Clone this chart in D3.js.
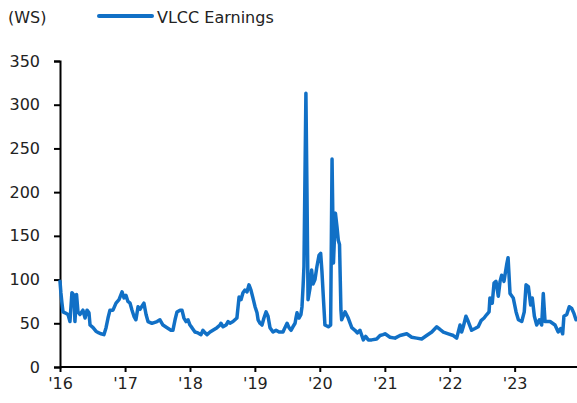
<!DOCTYPE html>
<html>
<head>
<meta charset="utf-8">
<script src="https://cdn.jsdelivr.net/npm/d3@7"></script>
<style>
  body { margin: 0; background: #fff; }
  text { font-family: "DejaVu Sans", sans-serif; fill: #222; }
</style>
</head>
<body>
<div id="chart"></div>
<script>
// VLCC earnings, WS points
var dates = [
  '2016-01-01','2016-01-06','2016-01-12','2016-01-18','2016-01-29','2016-02-15','2016-02-26','2016-03-08',
  '2016-03-20','2016-03-25','2016-04-03','2016-04-11','2016-04-22','2016-05-09','2016-05-21','2016-06-01',
  '2016-06-12','2016-06-18','2016-07-05','2016-07-21','2016-08-07','2016-08-19','2016-09-04','2016-09-16',
  '2016-09-27','2016-10-08','2016-10-25','2016-11-11','2016-11-28','2016-12-15','2016-12-26',
  '2017-01-06','2017-01-17','2017-01-29','2017-02-09','2017-02-20','2017-03-03','2017-03-15','2017-03-26',
  '2017-04-17','2017-04-29','2017-05-10','2017-06-01','2017-06-30','2017-07-16','2017-08-02','2017-08-25',
  '2017-09-16','2017-09-27','2017-10-09','2017-10-20','2017-11-06','2017-11-17','2017-11-28','2017-12-10',
  '2017-12-21',
  '2018-01-01','2018-01-12','2018-01-29','2018-02-15','2018-03-04','2018-03-15','2018-03-27','2018-04-07',
  '2018-04-24','2018-05-10','2018-06-02','2018-06-19','2018-06-24','2018-07-06','2018-07-23','2018-08-03',
  '2018-08-14','2018-08-31','2018-09-11','2018-09-22','2018-10-04','2018-10-15','2018-10-26','2018-11-06',
  '2018-11-18','2018-11-29','2018-12-10','2018-12-21',
  '2019-01-02','2019-01-13','2019-01-19','2019-01-30','2019-02-10','2019-02-21','2019-03-05','2019-03-16',
  '2019-03-27','2019-04-13','2019-04-30','2019-05-17','2019-06-08','2019-06-19','2019-07-01','2019-07-12',
  '2019-07-23','2019-08-03','2019-08-15','2019-08-20','2019-08-26','2019-09-06','2019-09-17','2019-09-23',
  '2019-09-29','2019-10-04','2019-10-15','2019-10-21','2019-10-27','2019-11-07','2019-11-16','2019-11-24',
  '2019-12-05','2019-12-16','2019-12-28',
  '2020-01-06','2020-01-13','2020-01-21','2020-01-30','2020-02-18','2020-03-02','2020-03-10','2020-03-18',
  '2020-03-29','2020-04-07','2020-04-14','2020-04-21','2020-04-29','2020-05-03','2020-05-22','2020-06-09',
  '2020-06-29','2020-07-17','2020-07-30','2020-08-14','2020-09-02','2020-09-15','2020-09-30','2020-10-19',
  '2020-11-16','2020-12-05','2020-12-22',
  '2021-01-02','2021-01-30','2021-02-27','2021-03-27','2021-05-04','2021-06-01','2021-06-29','2021-07-27',
  '2021-08-24','2021-09-22','2021-10-20','2021-11-07','2021-11-26','2021-12-24',
  '2022-01-21','2022-02-09','2022-02-28','2022-03-09','2022-03-18','2022-04-02','2022-04-15','2022-05-04',
  '2022-05-23','2022-06-10','2022-06-26','2022-07-13','2022-07-28','2022-08-10','2022-08-15','2022-08-28',
  '2022-09-07','2022-09-18','2022-10-01','2022-10-11','2022-10-20','2022-11-02','2022-11-17','2022-11-25',
  '2022-12-06','2022-12-24',
  '2023-01-09','2023-01-22','2023-02-10','2023-02-24','2023-03-06','2023-03-19','2023-04-01','2023-04-10',
  '2023-04-22','2023-05-05','2023-05-20','2023-06-02','2023-06-11','2023-06-21','2023-07-19','2023-08-16',
  '2023-09-03','2023-09-17','2023-09-28','2023-10-05','2023-10-21','2023-11-04','2023-11-18','2023-12-01',
  '2023-12-12'
];
var earnings = [
  98, 85, 73, 63, 62, 60, 52, 85,
  82, 52, 83, 63, 60, 65, 56, 65,
  62, 48, 45, 41, 39, 38, 37, 45,
  56, 65, 65, 73, 77, 86, 79,
  82, 75, 73, 65, 58, 54, 69, 66,
  73, 60, 52, 50, 52, 54, 48, 45,
  42, 42, 54, 63, 65, 65, 56, 52,
  54,
  48, 45, 40, 39, 37, 42, 39, 37,
  40, 42, 45, 48, 50, 46, 48, 52,
  50, 52, 54, 56, 80, 77, 85, 88,
  86, 94, 88, 79,
  69, 62, 54, 50, 48, 56, 63, 58,
  45, 40, 42, 40, 40, 45, 50, 45,
  42, 46, 50, 56, 62, 56, 60, 69,
  92, 115, 313, 200, 77, 90, 111, 95,
  100, 115, 128,
  130, 110, 80, 48, 46, 48, 238, 119,
  176, 160, 145, 140, 65, 54, 63, 56,
  45, 42, 39, 42, 31, 35, 31, 31,
  32, 36, 37,
  38, 34, 33, 36, 38, 34, 33, 32,
  36, 40, 46, 43, 40, 38,
  36, 33, 48, 40, 46, 58, 52, 42,
  44, 46, 53, 56, 60, 63, 79, 73,
  96, 98, 81, 98, 105, 98, 117, 125,
  84, 79,
  63, 54, 52, 63, 94, 92, 71, 79,
  58, 48, 54, 48, 84, 52, 52, 48,
  40, 44, 38, 58, 60, 69, 67, 61,
  54
];
var yTicks = [0, 50, 100, 150, 200, 250, 300, 350];
var yearTicks = ['2016-01-01','2017-01-01','2018-01-01','2019-01-01','2020-01-01','2021-01-01','2022-01-01','2023-01-01'];
var yearLabels = ["'16", "'17", "'18", "'19", "'20", "'21", "'22", "'23"];
var unitLabel = '(WS)';
var seriesName = 'VLCC Earnings';

var W = 577, H = 403;
var plotLeft = 60, plotRight = 577, plotTop = 61, plotBottom = 367;
var blue = '#1170c6';

var parse = d3.timeParse('%Y-%m-%d');
var data = dates.map(function(d, i) { return {date: parse(d), value: earnings[i]}; });

var x = d3.scaleTime()
  .domain([data[0].date, data[data.length - 1].date])
  .range([plotLeft, 576]);
var y = d3.scaleLinear().domain([0, 350]).range([plotBottom, plotTop]);

var svg = d3.select('#chart').append('svg')
  .attr('width', W)
  .attr('height', H);

// y axis
var yAxis = svg.append('g')
  .attr('transform', 'translate(' + plotLeft + ',0)')
  .call(d3.axisLeft(y).tickValues(yTicks).tickSize(6).tickPadding(14));
yAxis.select('.domain').attr('stroke', '#000').attr('stroke-width', 2);
yAxis.selectAll('.tick line').attr('stroke', '#000').attr('stroke-width', 2);
yAxis.selectAll('.tick text')
  .attr('font-size', 16)
  .attr('font-family', 'DejaVu Sans, sans-serif')
  .attr('fill', '#222');

// x axis
var xAxis = svg.append('g')
  .attr('transform', 'translate(0,' + plotBottom + ')')
  .call(d3.axisBottom(x)
    .tickValues(yearTicks.map(parse))
    .tickFormat(function(d, i) { return yearLabels[i]; })
    .tickSize(5)
    .tickSizeOuter(0)
    .tickPadding(6));
xAxis.select('.domain').attr('d', 'M' + plotLeft + ',0H' + plotRight).attr('stroke', '#000').attr('stroke-width', 2);
xAxis.selectAll('.tick line').attr('stroke', '#000').attr('stroke-width', 2);
xAxis.selectAll('.tick text')
  .attr('font-size', 16)
  .attr('font-family', 'DejaVu Sans, sans-serif')
  .attr('fill', '#222');

// series
var line = d3.line()
  .x(function(d) { return x(d.date); })
  .y(function(d) { return y(d.value); });

svg.append('path')
  .datum(data)
  .attr('d', line)
  .attr('fill', 'none')
  .attr('stroke', blue)
  .attr('stroke-width', 3.5)
  .attr('stroke-linejoin', 'round')
  .attr('stroke-linecap', 'round');

// unit + legend
svg.append('text')
  .attr('x', 8)
  .attr('y', 23)
  .attr('font-size', 16)
  .text(unitLabel);

svg.append('line')
  .attr('x1', 99).attr('x2', 152)
  .attr('y1', 16).attr('y2', 16)
  .attr('stroke', blue)
  .attr('stroke-width', 4)
  .attr('stroke-linecap', 'round');

svg.append('text')
  .attr('x', 157)
  .attr('y', 23)
  .attr('font-size', 16)
  .text(seriesName);
</script>
</body>
</html>
